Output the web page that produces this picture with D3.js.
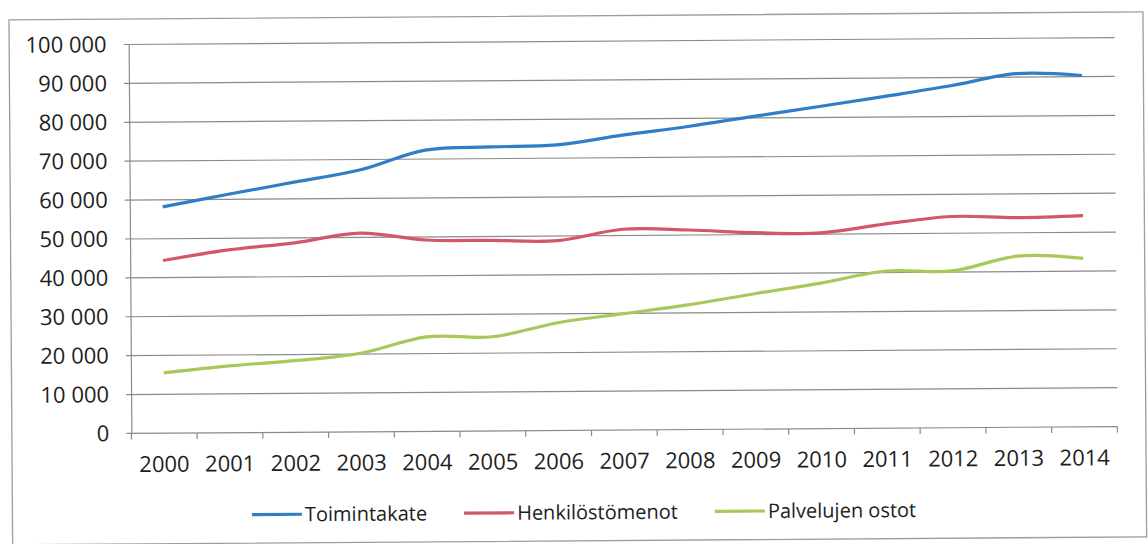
<!DOCTYPE html>
<html>
<head>
<meta charset="utf-8">
<script src="https://cdn.jsdelivr.net/npm/d3@7"></script>
<style>
  html, body { margin: 0; padding: 0; background: #fff; }
  svg { display: block; }
  text { font-family: "Open Sans", sans-serif; fill: #1e1e1e; }
</style>
</head>
<body>
<div id="chart"></div>
<script>
var years = ["2000", "2001", "2002", "2003", "2004", "2005", "2006", "2007", "2008", "2009", "2010", "2011", "2012", "2013", "2014"];
var toimintakate = [58200, 61300, 64300, 67300, 72300, 73000, 73400, 75800, 77900, 80400, 82800, 85300, 87900, 90900, 90300];
var henkilostomenot = [44400, 47000, 48700, 51100, 49200, 49000, 48800, 51600, 51300, 50500, 50300, 52500, 54300, 53900, 54300];
var palvelujenOstot = [15500, 17200, 18400, 20200, 24300, 24200, 27700, 29900, 32100, 34800, 37400, 40400, 40300, 44000, 43300];
var yTicks = [0, 10000, 20000, 30000, 40000, 50000, 60000, 70000, 80000, 90000, 100000];
var seriesNames = ["Toimintakate", "Henkilöstömenot", "Palvelujen ostot"];
var seriesColors = ["#2f7ec6", "#d4566b", "#a8c85a"];

var W = 1148, H = 544;
var plot = {left: 130, right: 1116, top: 41, bottom: 430};

var svg = d3.select("#chart").append("svg")
  .attr("width", W)
  .attr("height", H);

// the scan is tilted a little
var g = svg.append("g").attr("transform", "rotate(-0.4, 623, 235)");

// outer chart border
g.append("rect")
  .attr("x", 10.5).attr("y", 15.5)
  .attr("width", 1134).attr("height", 525)
  .attr("fill", "none")
  .attr("stroke", "#9d9d9d")
  .attr("stroke-width", 1.3);

var x = d3.scaleBand().domain(years).range([plot.left, plot.right]);
var y = d3.scaleLinear().domain([0, 100000]).range([plot.bottom, plot.top]);

var fi = d3.formatLocale({decimal: ",", thousands: " ", grouping: [3], currency: ["", " €"]});
var fmt = fi.format(",");

// gridlines
g.append("g").selectAll("line")
  .data(yTicks)
  .enter().append("line")
  .attr("x1", plot.left - 5).attr("x2", plot.right)
  .attr("y1", function(d) { return y(d); })
  .attr("y2", function(d) { return y(d); })
  .attr("stroke", "#8a8a8a")
  .attr("stroke-width", 1.2);

// y axis
var yAxis = d3.axisLeft(y).tickValues(yTicks).tickSize(0).tickPadding(22).tickFormat(fmt);
var ya = g.append("g").attr("transform", "translate(" + plot.left + ",0)").call(yAxis);
ya.select(".domain").attr("stroke", "#8a8a8a").attr("stroke-width", 1.2);
ya.selectAll("text").style("font-size", "22px").attr("fill", "#1e1e1e");

// x axis
var xAxis = d3.axisBottom(x).tickSize(0).tickPadding(23);
var xa = g.append("g").attr("transform", "translate(0," + plot.bottom + ")").call(xAxis);
xa.select(".domain").remove();
xa.selectAll("text").style("font-size", "22px").attr("fill", "#1e1e1e");

// tick marks between categories
var bounds = years.map(function(d) { return x(d); }).concat([plot.right]);
xa.selectAll(".bound")
  .data(bounds)
  .enter().append("line")
  .attr("class", "bound")
  .attr("x1", function(d) { return d; })
  .attr("x2", function(d) { return d; })
  .attr("y1", 0).attr("y2", 6)
  .attr("stroke", "#8a8a8a")
  .attr("stroke-width", 1.2);

// lines
var allSeries = [toimintakate, henkilostomenot, palvelujenOstot];
var line = d3.line()
  .x(function(d, i) { return x(years[i]) + x.bandwidth() / 2; })
  .y(function(d) { return y(d); })
  .curve(d3.curveCatmullRom.alpha(0.5));

g.append("g").selectAll("path")
  .data(allSeries)
  .enter().append("path")
  .attr("d", line)
  .attr("fill", "none")
  .attr("stroke", function(d, i) { return seriesColors[i]; })
  .attr("stroke-width", 3.2)
  .attr("stroke-linejoin", "round");

// legend
var legend = g.append("g").attr("transform", "translate(250,512)");
var lx = 0;
seriesNames.forEach(function(name, i) {
  var item = legend.append("g").attr("transform", "translate(" + lx + ",0)");
  item.append("line")
    .attr("x1", 0).attr("x2", 50)
    .attr("y1", 0).attr("y2", 0)
    .attr("stroke", seriesColors[i])
    .attr("stroke-width", 3.2);
  var t = item.append("text")
    .attr("x", 53)
    .attr("dy", "0.35em")
    .style("font-size", "20px")
    .text(name);
  lx += 53 + t.node().getComputedTextLength() + 37;
});
</script>
</body>
</html>
